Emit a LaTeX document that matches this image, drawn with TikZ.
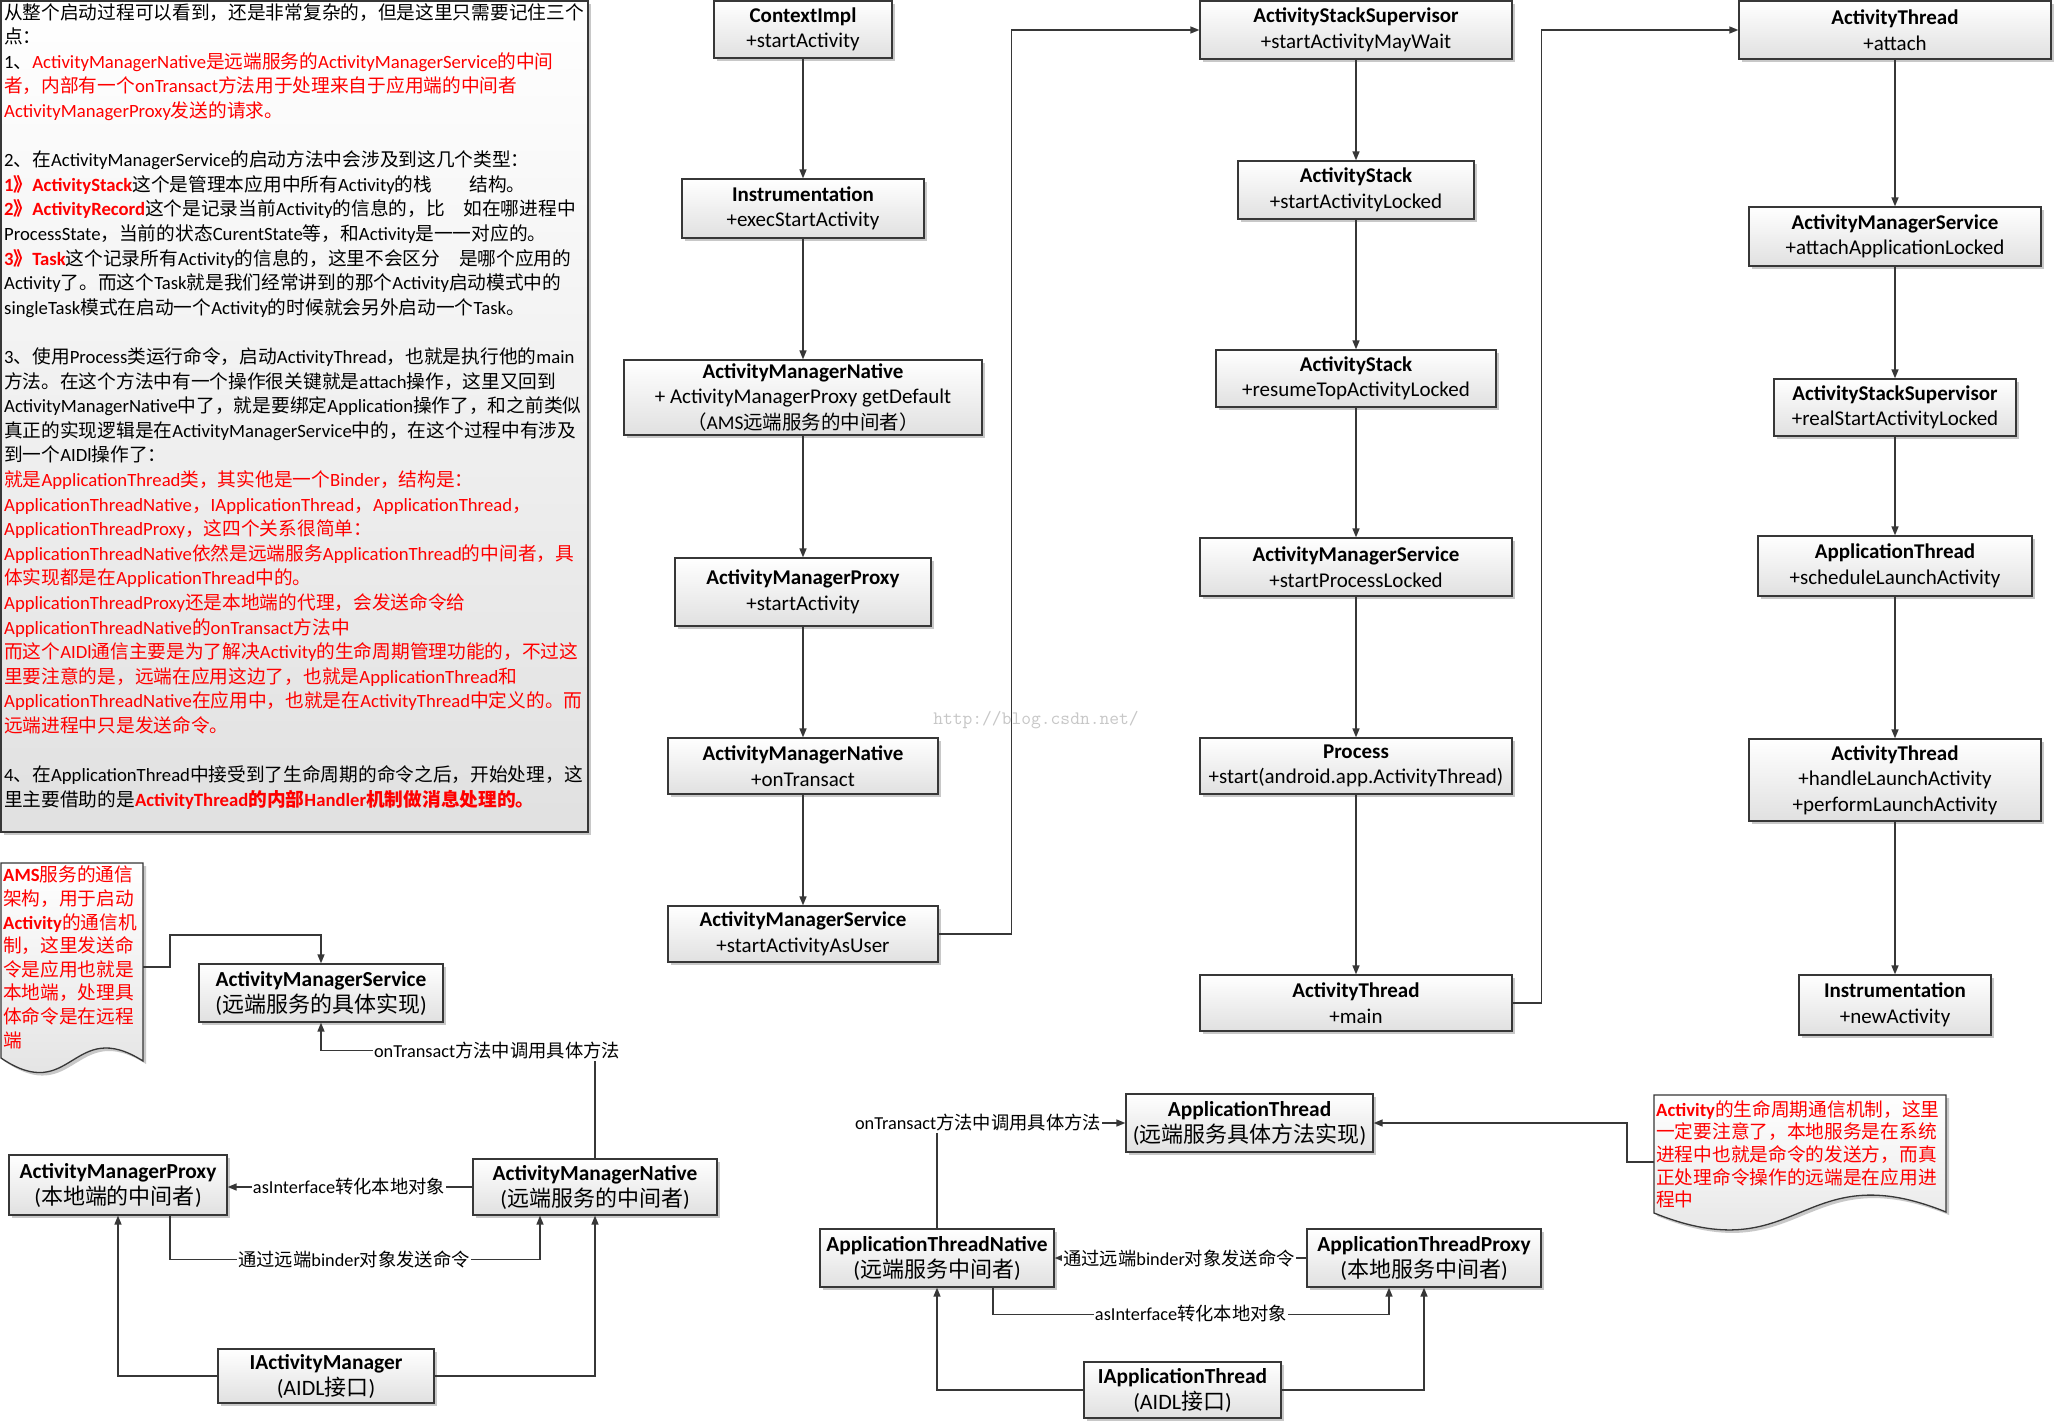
\documentclass[tikz,border=0pt]{standalone}
\usepackage{fontspec}
\setmainfont{Carlito}
\newfontfamily\zhfont{Noto Sans CJK SC}
\usetikzlibrary{arrows.meta,shadows,calc}
\makeatletter
\XeTeXinterchartokenstate=1
\newXeTeXintercharclass\zhclass
\newcount\zhc
\def\zhrange#1#2{\zhc=#1\relax\loop\XeTeXcharclass\zhc=\zhclass\relax\ifnum\zhc<#2\relax\advance\zhc by 1\relax\repeat}
\zhrange{"2E80}{"2FFF}
\zhrange{"3000}{"30FF}
\zhrange{"3400}{"4DBF}
\zhrange{"4E00}{"9FFF}
\zhrange{"FF00}{"FFEF}
\XeTeXinterchartoks 0 \zhclass={\begingroup\zhfont}
\XeTeXinterchartoks \e@alloc@intercharclass@top \zhclass={\begingroup\zhfont}
\XeTeXinterchartoks \zhclass 0={\endgroup}
\XeTeXinterchartoks \zhclass \e@alloc@intercharclass@top={\endgroup}
\makeatother
\definecolor{ln}{RGB}{55,55,55}
\tikzset{
  shd/.style={drop shadow={shadow xshift=3pt,shadow yshift=-3pt,opacity=0.3,fill=black!70}},
  grad/.style={top color=white,bottom color=black!12},
  blk/.style={draw=ln,line width=1.3pt,grad,shd,inner sep=0pt},
  flow/.style={draw=ln,line width=1.3pt,grad,shd,align=center,inner sep=0pt,font=\fontsize{21}{25.5}\selectfont},
  lbox/.style={draw=ln,line width=1.3pt,grad,shd,align=center,inner sep=0pt,font=\fontsize{21.4}{26}\selectfont},
  arr/.style={draw=ln,line width=1.5pt,-{Triangle[length=9pt,width=7pt]}},
  lbl/.style={fill=white,inner sep=1pt,font=\fontsize{18.3}{18.3}\selectfont},
  notetxt/.style={anchor=north west,align=left,inner sep=0pt,text=red},
}
\newcommand\fttl[1]{{\bfseries #1}}
\newcommand\lttl[1]{{\bfseries #1}}
\newcommand\lsubln[1]{{\fontsize{22}{26}\selectfont #1}}
\newcommand\mybox[7][]{%
  \pgfmathsetmacro\mbw{#5-#3}%
  \pgfmathsetmacro\mbh{#6-#4}%
  \node[#1,minimum width=\mbw pt,minimum height=\mbh pt] (#2) at ({(#3+#5)/2},{(#4+#6)/2}) {#7};}
\begin{document}
\begin{tikzpicture}[x=1pt,y=-1pt]
\fill[white] (0,0) rectangle (2054,1421);
\useasboundingbox (0,0) rectangle (2054,1421);

% ---------- left text block ----------
\mybox[blk]{tb}{1}{1}{588}{832}{}
\node[anchor=north west,align=left,inner sep=0pt,font=\fontsize{18.7}{24.6}\selectfont] (tbt) at (4,3) {%
从整个启动过程可以看到，还是非常复杂的，但是这里只需要记住三个\\
点：\\
1、{\color{red}ActivityManagerNative是远端服务的ActivityManagerService的中间}\\
{\color{red}者，内部有一个onTransact方法用于处理来自于应用端的中间者}\\
{\color{red}ActivityManagerProxy发送的请求。}\\[24.6pt]
2、在ActivityManagerService的启动方法中会涉及到这几个类型：\\
{\color{red}\bfseries 1》ActivityStack}这个是管理本应用中所有Activity的栈　　结构。\\
{\color{red}\bfseries 2》ActivityRecord}这个是记录当前Activity的信息的，比　如在哪进程中\\
ProcessState，当前的状态CurentState等，和Activity是一一对应的。\\
{\color{red}\bfseries 3》Task}这个记录所有Activity的信息的，这里不会区分　是哪个应用的\\
Activity了。而这个Task就是我们经常讲到的那个Activity启动模式中的\\
singleTask模式在启动一个Activity的时候就会另外启动一个Task。\\[24.6pt]
3、使用Process类运行命令，启动ActivityThread，也就是执行他的main\\
方法。在这个方法中有一个操作很关键就是attach操作，这里又回到\\
ActivityManagerNative中了，就是要绑定Application操作了，和之前类似\\
真正的实现逻辑是在ActivityManagerService中的，在这个过程中有涉及\\
到一个AIDl操作了：\\
{\color{red}就是ApplicationThread类，其实他是一个Binder，结构是：}\\
{\color{red}ApplicationThreadNative，IApplicationThread，ApplicationThread，}\\
{\color{red}ApplicationThreadProxy，这四个关系很简单：}\\
{\color{red}ApplicationThreadNative依然是远端服务ApplicationThread的中间者，具}\\
{\color{red}体实现都是在ApplicationThread中的。}\\
{\color{red}ApplicationThreadProxy还是本地端的代理，会发送命令给}\\
{\color{red}ApplicationThreadNative的onTransact方法中}\\
{\color{red}而这个AIDl通信主要是为了解决Activity的生命周期管理功能的，不过这}\\
{\color{red}里要注意的是，远端在应用这边了，也就是ApplicationThread和}\\
{\color{red}ApplicationThreadNative在应用中，也就是在ActivityThread中定义的。而}\\
{\color{red}远端进程中只是发送命令。}\\[24.6pt]
4、在ApplicationThread中接受到了生命周期的命令之后，开始处理，这\\
里主要借助的是{\color{red}\bfseries ActivityThread的内部Handler机制做消息处理的。}};

% ---------- column 1 ----------
\mybox[flow]{c1a}{714}{1}{892}{58}{\fttl{ContextImpl}\\+startActivity}
\mybox[flow]{c1b}{682}{179}{924}{238}{\fttl{Instrumentation}\\+execStartActivity}
\mybox[flow]{c1c}{624}{360}{982}{435}{\fttl{ActivityManagerNative}\\+ ActivityManagerProxy getDefault\\{\fontsize{19.5}{25.5}\selectfont （AMS远端服务的中间者）}}
\mybox[flow]{c1d}{675}{558}{931}{626}{\fttl{ActivityManagerProxy}\\+startActivity}
\mybox[flow]{c1e}{668}{738}{938}{794}{\fttl{ActivityManagerNative}\\+onTransact}
\mybox[flow]{c1f}{668}{906}{938}{962}{\fttl{ActivityManagerService}\\+startActivityAsUser}
% ---------- column 2 ----------
\mybox[flow]{c2a}{1200}{1}{1512}{59}{\fttl{ActivityStackSupervisor}\\+startActivityMayWait}
\mybox[flow]{c2b}{1238}{161}{1474}{219}{\fttl{ActivityStack}\\+startActivityLocked}
\mybox[flow]{c2c}{1216}{350}{1496}{407}{\fttl{ActivityStack}\\+resumeTopActivityLocked}
\mybox[flow]{c2d}{1200}{538}{1512}{596}{\fttl{ActivityManagerService}\\+startProcessLocked}
\mybox[flow]{c2e}{1200}{738}{1512}{794}{\fttl{Process}\\+start(android.app.ActivityThread)}
\mybox[flow]{c2f}{1200}{975}{1512}{1031}{\fttl{ActivityThread}\\+main}
% ---------- column 3 ----------
\mybox[flow]{c3a}{1739}{1}{2051}{59}{\fttl{ActivityThread}\\+attach}
\mybox[flow]{c3b}{1749}{207}{2041}{266}{\fttl{ActivityManagerService}\\+attachApplicationLocked}
\mybox[flow]{c3c}{1774}{379}{2016}{436}{\fttl{ActivityStackSupervisor}\\+realStartActivityLocked}
\mybox[flow]{c3d}{1758}{536}{2032}{596}{\fttl{ApplicationThread}\\+scheduleLaunchActivity}
\mybox[flow]{c3e}{1749}{739}{2041}{821}{\fttl{ActivityThread}\\+handleLaunchActivity\\+performLaunchActivity}
\mybox[flow]{c3f}{1799}{975}{1991}{1035}{\fttl{Instrumentation}\\+newActivity}

\foreach \a/\b in {c1a/c1b,c1b/c1c,c1c/c1d,c1d/c1e,c1e/c1f,c2a/c2b,c2b/c2c,c2c/c2d,c2d/c2e,c2e/c2f,c3a/c3b,c3b/c3c,c3c/c3d,c3d/c3e,c3e/c3f}
  \draw[arr] (\a.south) -- (\a.south |- \b.north);
\draw[arr] (c1f.east) -- ++(73,0) |- (c2a.west);
\draw[arr] (c2f.east) -- ++(29,0) |- (c3a.west);

\node[text=black!22,font=\ttfamily\fontsize{19}{19}\selectfont] (wm) at (1036,720) {http://blog.csdn.net/};

% ---------- lower left ----------
\path[draw=ln,line width=1.3pt,grad,shd] (1,863) -- (143,863) -- (143,1061) .. controls (72,1016) and (72,1106) .. (1,1058) -- cycle;
\node[notetxt,font=\fontsize{18.7}{23.6}\selectfont] (n1t) at (3,866) {{\bfseries AMS}服务的通信\\架构，用于启动\\{\bfseries Activity}的通信机\\制，这里发送命\\令是应用也就是\\本地端，处理具\\体命令是在远程\\端};
\coordinate (n1r) at (143,967);
\mybox[lbox]{ll1}{199}{964}{443}{1022}{\lttl{ActivityManagerService}\\\lsubln{(远端服务的具体实现)}}
\mybox[lbox]{ll2}{9}{1155}{227}{1215}{\lttl{ActivityManagerProxy}\\\lsubln{(本地端的中间者)}}
\mybox[lbox]{ll3}{473}{1159}{717}{1215}{\lttl{ActivityManagerNative}\\\lsubln{(远端服务的中间者)}}
\mybox[lbox]{ll4}{218}{1349}{434}{1403}{\lttl{IActivityManager}\\\lsubln{(AIDL接口)}}

\draw[arr] (n1r) -- ++(27,0) -- ++(0,-32) -| (ll1.north);
\draw[arr] (ll3.north) -- ++(0,-108) -| (ll1.south);
\draw[arr] (ll3.west) -- (ll3.west -| ll2.east);
\draw[arr] ([xshift=52pt]ll2.south) -- ++(0,44) -| ([xshift=-55pt]ll3.south);
\draw[arr] (ll4.west) -| (ll2.south);
\draw[arr] (ll4.east) -| (ll3.south);
\node[lbl] (lb1) at (497,1051) {onTransact方法中调用具体方法};
\node[lbl] (lb2) at (349,1187) {asInterface转化本地对象};
\node[lbl] (lb3) at (354,1259) {通过远端binder对象发送命令};

% ---------- lower right ----------
\mybox[lbox]{lr1}{1126}{1094}{1373}{1152}{\lttl{ApplicationThread}\\\lsubln{(远端服务具体方法实现)}}
\path[draw=ln,line width=1.3pt,grad,shd] (1654,1095) -- (1946,1095) -- (1946,1212) .. controls (1800,1153) and (1800,1272) .. (1654,1213) -- cycle;
\node[notetxt,font=\fontsize{18.7}{22.7}\selectfont] (n2t) at (1656,1100) {{\bfseries Activity}的生命周期通信机制，这里\\一定要注意了，本地服务是在系统\\进程中也就是命令的发送方，而真\\正处理命令操作的远端是在应用进\\程中};
\coordinate (n2l) at (1654,1162);
\mybox[lbox]{lr3}{820}{1229}{1054}{1287}{\lttl{ApplicationThreadNative}\\\lsubln{(远端服务中间者)}}
\mybox[lbox]{lr4}{1307}{1229}{1541}{1287}{\lttl{ApplicationThreadProxy}\\\lsubln{(本地服务中间者)}}
\mybox[lbox]{lr5}{1084}{1362}{1281}{1418}{\lttl{IApplicationThread}\\\lsubln{(AIDL接口)}}

\draw[arr] (lr3.north) |- (lr1.west);
\draw[arr] (n2l) -- ++(-27,0) |- (lr1.east);
\draw[arr] (lr4.west) -- (lr4.west -| lr3.east);
\draw[arr] ([xshift=56pt]lr3.south) -- ++(0,27) -| ([xshift=-35pt]lr4.south);
\draw[arr] (lr5.west) -| (lr3.south);
\draw[arr] (lr5.east) -| (lr4.south);
\node[lbl] (lb4) at (978,1123) {onTransact方法中调用具体方法};
\node[lbl] (lb5) at (1179,1258) {通过远端binder对象发送命令};
\node[lbl] (lb6) at (1191,1314) {asInterface转化本地对象};
\end{tikzpicture}
\end{document}
